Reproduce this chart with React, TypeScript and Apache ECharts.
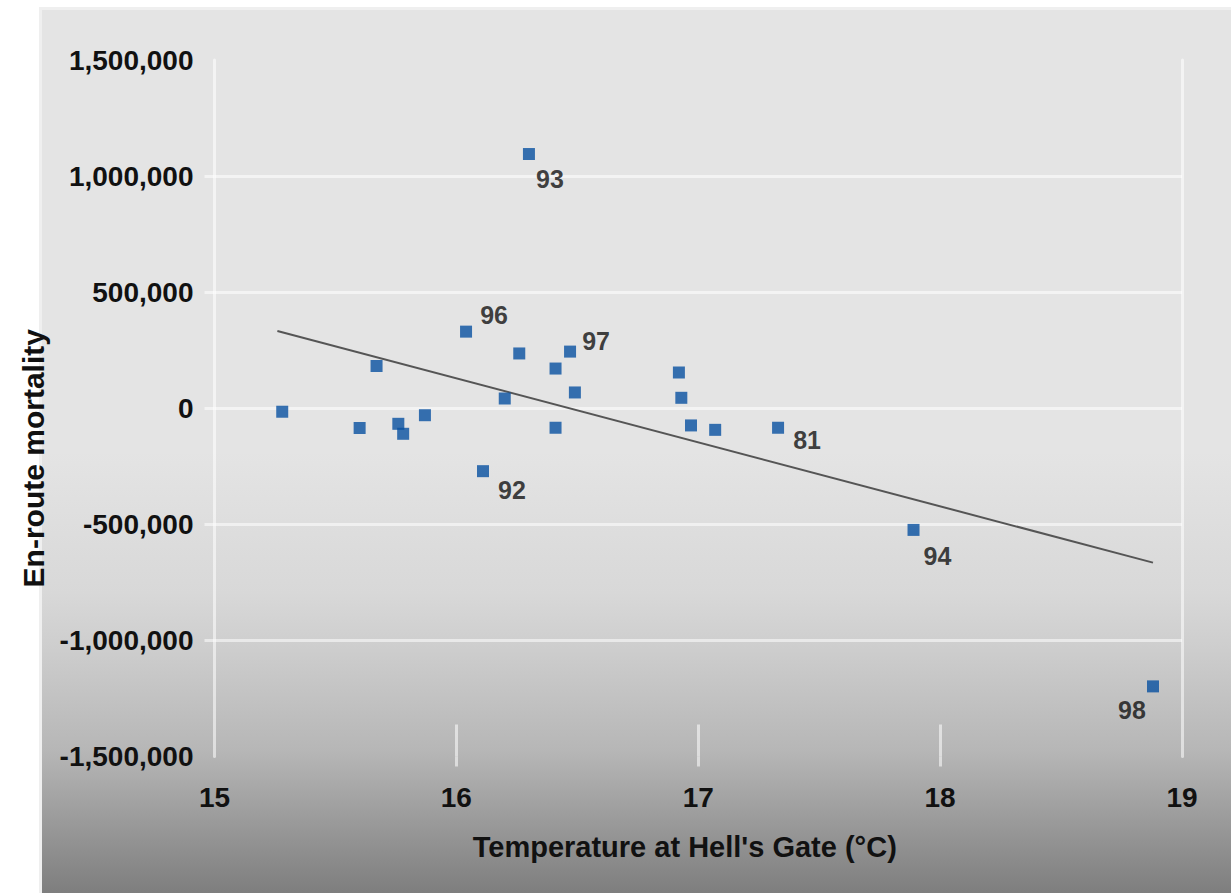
import React, { useEffect, useRef } from "react";
import * as echarts from "echarts";

// ---- data ----
const temps = [15.28, 15.6, 15.67, 15.76, 15.78, 15.87, 16.04, 16.11, 16.2, 16.26, 16.3, 16.41, 16.41, 16.47, 16.49, 16.92, 16.93, 16.97, 17.07, 17.33, 17.89, 18.88];
const mortality = [-15000, -85000, 182000, -67000, -110000, -30000, 330000, -271000, 42000, 236000, 1095000, 171000, -84000, 244000, 68000, 154000, 45000, -74000, -93000, -84000, -524000, -1198000];
const yearLabels = ["", "", "", "", "", "", "96", "92", "", "", "93", "", "", "97", "", "", "", "", "", "81", "94", "98"];
const trendX = [15.26, 18.88];
const trendY = [333000, -665000];
const xTicks = [15, 16, 17, 18, 19];
const yTicks = [-1500000, -1000000, -500000, 0, 500000, 1000000, 1500000];

// ---- styles ----
const labelOffsets: Record<string, [number, number]> = {
  "96": [28, -17],
  "92": [29, 19],
  "93": [21, 25],
  "97": [26, -11],
  "81": [29, 12],
  "94": [24, 26],
  "98": [-21, 24],
};
const W = 1231;
const H = 893;
const FONT = "'Liberation Sans', Arial, sans-serif";
const TXT = "#111111";
const GRID = "rgba(255,255,255,0.55)";

export default function App() {
  const ref = useRef<HTMLDivElement>(null);
  useEffect(() => {
    document.body.style.margin = "0";
    const chart = echarts.init(ref.current!, null, { renderer: "svg", width: W, height: H });
    const innerTicks = xTicks.slice(1, -1);
    const innerY = yTicks.slice(1, -1);
    chart.setOption({
      animation: false,
      graphic: [
        { type: "rect", z: -10, silent: true, shape: { x: 39, y: 7, width: 1192, height: 886 }, style: { fill: "#efefef" } },
        {
          type: "rect",
          z: -9,
          silent: true,
          shape: { x: 42, y: 10, width: 1189, height: 883 },
          style: {
            fill: {
              type: "linear", x: 0, y: 0, x2: 0, y2: 1,
              colorStops: [
                { offset: 0, color: "#e4e4e4" },
                { offset: 0.5, color: "#e4e4e4" },
                { offset: 0.66, color: "#d8d8d8" },
                { offset: 0.72, color: "#cecece" },
                { offset: 0.84, color: "#b6b6b6" },
                { offset: 0.92, color: "#9a9a9a" },
                { offset: 1, color: "#7e7e7e" },
              ],
            },
          },
        },
      ],
      grid: { left: 214.5, right: 49, top: 60, bottom: 136.5, containLabel: false },
      xAxis: [
        {
          type: "value",
          min: xTicks[0],
          max: xTicks[xTicks.length - 1],
          interval: 1,
          position: "bottom",
          axisLine: { show: false, onZero: false },
          splitLine: { show: false },
          axisTick: { show: true, inside: true, length: 32, customValues: innerTicks, lineStyle: { color: GRID, width: 3 } },
          axisLabel: { margin: 27, fontSize: 28, fontWeight: "bold", fontFamily: FONT, color: TXT },
          name: "Temperature at Hell's Gate (°C)",
          nameLocation: "middle",
          nameGap: 76,
          nameTextStyle: { fontSize: 29, fontWeight: "bold", fontFamily: FONT, color: TXT, padding: [0, 27, 0, 0] },
        },
        {
          type: "value",
          min: xTicks[0],
          max: xTicks[xTicks.length - 1],
          interval: 1,
          position: "bottom",
          axisLine: { show: false, onZero: false },
          splitLine: { show: false },
          axisLabel: { show: false },
          axisTick: { show: true, inside: false, length: 10, customValues: innerTicks, lineStyle: { color: GRID, width: 3 } },
        },
      ],
      yAxis: [
        {
          type: "value",
          min: yTicks[0],
          max: yTicks[yTicks.length - 1],
          interval: 500000,
          position: "left",
          axisLine: { show: true, onZero: false, lineStyle: { color: GRID, width: 3 } },
          axisTick: { show: true, length: 10, customValues: innerY, lineStyle: { color: GRID, width: 3 } },
          splitLine: { show: true, lineStyle: { color: GRID, width: 3 } },
          axisLabel: {
            margin: 21,
            fontSize: 28,
            fontWeight: "bold",
            fontFamily: FONT,
            color: TXT,
            formatter: (v: number) => v.toLocaleString("en-US"),
          },
          name: "En-route mortality",
          nameLocation: "middle",
          nameRotate: 90,
          nameGap: 164,
          nameTextStyle: { fontSize: 30, fontWeight: "bold", fontFamily: FONT, color: TXT, padding: [0, 100, 0, 0] },
        },
        {
          type: "value",
          min: yTicks[0],
          max: yTicks[yTicks.length - 1],
          interval: 500000,
          position: "right",
          axisLine: { show: true, onZero: false, lineStyle: { color: GRID, width: 3 } },
          axisTick: { show: false },
          splitLine: { show: false },
          axisLabel: { show: false },
        },
      ],
      series: [
        {
          type: "line",
          data: trendX.map((x, i) => [x, trendY[i]]),
          symbol: "none",
          lineStyle: { color: "#555555", width: 2 },
          z: 2,
          silent: true,
        },
        {
          type: "scatter",
          symbol: "rect",
          symbolSize: 12,
          itemStyle: { color: "#0850a0" },
          label: {
            position: "inside",
            fontSize: 25,
            fontWeight: "bold",
            fontFamily: FONT,
            color: TXT,
            align: "center",
            verticalAlign: "middle",
          },
          data: temps.map((t, i) => {
            const lab = yearLabels[i];
            return lab
              ? { value: [t, mortality[i]], label: { show: true, formatter: lab, offset: labelOffsets[lab] } }
              : { value: [t, mortality[i]], label: { show: false } };
          }),
          z: 3,
        },
      ],
    });
    return () => chart.dispose();
  }, []);
  return <div ref={ref} style={{ width: W, height: H }} />;
}
